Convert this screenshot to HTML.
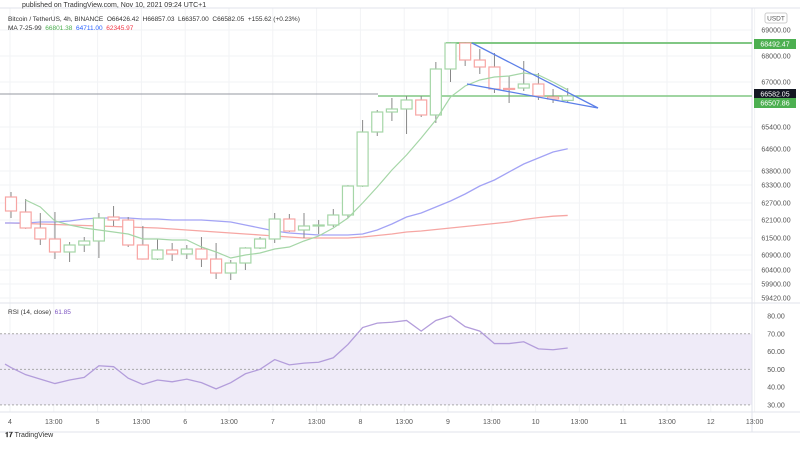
<!DOCTYPE html>
<html><head><meta charset="utf-8"><style>
body{margin:0;background:#fff;width:800px;height:444px;overflow:hidden;font-family:"Liberation Sans",sans-serif}
svg text{font-family:"Liberation Sans",sans-serif}
</style></head><body>
<svg id="c" width="800" height="444" xmlns="http://www.w3.org/2000/svg"></svg>
<script>
const openP=[63000,62468,61901,61511,61050,61298,61440,62291,62184,61298,60801,61121,60979,61156,60801,60305,60659,61191,61511,62220,61830,61990,62007,62362,63390,65305,66014,66121,66440,65908,67539,68461,67858,67610,66850,66865,67007,66546,66426];
const highP=[63177,62929,62433,62468,61404,61582,62433,62681,62291,61972,61511,61369,61298,61582,61369,60766,61220,61582,62433,62397,62433,62184,62574,63420,65731,66085,66511,66582,66582,67787,68492,68492,68248,68106,67291,67823,67397,66830,66857];
const lowP=[62255,61870,61298,60801,60695,61050,60837,61972,61227,60780,60766,60730,60801,60518,60092,60056,60411,61156,61369,61759,61546,61688,61936,62255,63360,65163,65695,65234,65837,65624,67078,67646,67362,66688,66333,66759,66440,66333,66357];
const closeP=[62504,61901,61511,61050,61298,61440,62255,62184,61298,60801,61121,60979,61156,60801,60305,60659,61191,61511,62220,61794,61972,62007,62362,63390,65305,66014,66121,66440,65908,67539,68461,67858,67610,66830,66830,67007,66582,66475,66582];
const ma7=[null,62894,62646,62149,62007,61901,61830,61759,61688,61511,61511,61475,61475,61227,61050,60837,60943,61014,61156,61227,61440,61617,61901,62255,62787,63355,63957,64489,65092,65731,66546,66936,67149,67255,67291,67397,67326,67078,66801];
const ma25=[62078,62078,62113,62113,62149,62220,62255,62255,62255,62220,62220,62184,62184,62184,62149,62113,62007,61901,61794,61723,61688,61653,61653,61653,61688,61830,62042,62291,62433,62646,62858,63107,63390,63603,63887,64170,64383,64596,64711];
const ma99=[62078,62060,62042,62025,62007,61990,61972,61954,61936,61918,61901,61865,61830,61794,61759,61723,61688,61653,61617,61582,61546,61546,61546,61546,61582,61635,61688,61759,61794,61847,61901,61954,62007,62060,62113,62202,62270,62320,62346];
const rsi=[51,47,44.5,42,44,45.5,52,51.5,45,41.5,44,43,44.5,42.5,39,42.5,47.5,50,55.5,52.5,53.5,54,56.5,64,73.5,76,76.5,77.5,71.5,77.5,80,74,71.5,64.5,64.5,65.5,61.5,61,62];
const priceTicks=[69000,68000,67000,65400,64600,63800,63300,62700,62100,61500,60900,60400,59900,59420];
const priceTickY=[30,56,82,127,149,171,185,203,220,238,255,270,284,298];
const rsiTicks=[80,70,60,50,40,30];
const xLabels=["4","13:00","5","13:00","6","13:00","7","13:00","8","13:00","9","13:00","10","13:00","11","13:00","12","13:00"];

const NS="http://www.w3.org/2000/svg",svg=document.getElementById('c');
function el(t,a,p){const e=document.createElementNS(NS,t);for(const k in a)e.setAttribute(k,a[k]);(p||svg).appendChild(e);return e;}
const X=i=>11+14.65*i;
const Y=p=>56+(68000-p)/35.46;
const RY=v=>316+(80-v)*1.778;

// grid
for(let k=0;k<priceTickY.length;k++){const g=el('line',{x1:0,x2:752,y1:priceTickY[k],y2:priceTickY[k],stroke:'#f2f3f5'});}
for(let k=0;k<xLabels.length;k++){const x=10+43.8*k;const g=el('line',{x1:x,x2:x,y1:8,y2:412,stroke:'#f2f3f5'});}
// rsi band
const band=el('rect',{x:0,y:RY(70),width:752,height:RY(30)-RY(70),fill:'#efebf8'});

for(const v of [70,50,30]){const l=el('line',{x1:0,x2:752,y1:RY(v),y2:RY(v),stroke:'#aaa','stroke-dasharray':'2,2'});}
// panes borders
for(const y of [8,303,412,432]){const l=el('line',{x1:0,x2:800,y1:y,y2:y,stroke:'#e0e3eb'});}
const ab=el('line',{x1:752,x2:752,y1:8,y2:432,stroke:'#e0e3eb'});

// price lines
const cp=el('line',{x1:0,x2:378,y1:94,y2:94,stroke:'#9598a1'});
const h1=el('line',{x1:446,x2:752,y1:43,y2:43,stroke:'#81c784','stroke-width':2});
const h2=el('line',{x1:378,x2:752,y1:96,y2:96,stroke:'#81c784','stroke-width':1.5});

function poly(arr,color,name,w){let pts=[];arr.forEach((v,i)=>{if(v!==null)pts.push(X(i)+','+Y(v));});
 if(arr[0]!==null)pts.unshift('5,'+Y(arr[0]));
 const p=el('polyline',{points:pts.join(' '),fill:'none',stroke:color,'stroke-width':w||1.3});}
poly(ma99,'#f6a6a3','ma99-line');
poly(ma25,'#a3a3f5','ma25-line');

// candles
for(let i=0;i<openP.length;i++){
 const up=closeP[i]>=openP[i];const col=up?'#a5d6a7':'#f7a5a3';const x=X(i);
 const w=el('line',{x1:x,x2:x,y1:Y(highP[i]),y2:Y(lowP[i]),stroke:'#888'});
 const t=Math.min(Y(openP[i]),Y(closeP[i]));const h=Math.max(1,Math.abs(Y(openP[i])-Y(closeP[i])));
 const r=el('rect',{x:x-5.5,y:t,width:11,height:h,fill:'#fff',stroke:col,'stroke-width':1.2});
 
}
poly(ma7,'#a5d6a7','ma7-line',1.2);

// wedge
const t1=el('line',{x1:472,y1:43,x2:598,y2:108,stroke:'#5b7fe8','stroke-width':1.3});
const t2=el('line',{x1:467,y1:84,x2:598,y2:108,stroke:'#5b7fe8','stroke-width':1.3});

// rsi
const rp=[('5,'+RY(53))].concat(rsi.map((v,i)=>X(i)+','+RY(v)));
const rl=el('polyline',{points:rp.join(' '),fill:'none',stroke:'#b39ddb','stroke-width':1.3});

// axis labels
function txt(x,y,s,a){const t=el('text',Object.assign({x:x,y:y,'font-size':7,fill:'#555'},a||{}));t.textContent=s;return t;}
priceTicks.forEach((v,k)=>{const t=txt(776,priceTickY[k]+2.5,v.toFixed(2),{'text-anchor':'middle'});});
rsiTicks.forEach(v=>{const t=txt(776,RY(v)+2.5,v.toFixed(2),{'text-anchor':'middle'});});
xLabels.forEach((s,k)=>{const t=txt(10+43.8*k,424,s,{'text-anchor':'middle'});});
function badge(y,s,bg,name){const r=el('rect',{x:754,y:y-5,width:42,height:10,fill:bg});
 const t=txt(775,y+2.5,s,{'text-anchor':'middle',fill:'#fff'});}
badge(44,'68492.47','#4caf50','resistance-price-label');
badge(94,'66582.05','#131722','current-price-label');
badge(103,'66507.86','#4caf50','support-price-label');
const ur=el('rect',{x:765,y:13,width:22,height:10,rx:2,fill:'#fff',stroke:'#ccc'});
const ut=txt(776,20.5,'USDT',{'text-anchor':'middle','font-size':6.5});
</script>
<div style="position:absolute;left:22px;top:2px;font-size:7px;color:#333">published on TradingView.com, Nov 10, 2021 09:24 UTC+1</div>
<div style="position:absolute;left:8px;top:16px;font-size:6.5px;color:#333">Bitcoin / TetherUS, 4h, BINANCE&nbsp; O66426.42&nbsp; H66857.03&nbsp; L66357.00&nbsp; C66582.05&nbsp; +155.62 (+0.23%)</div>
<div style="position:absolute;left:8px;top:25px;font-size:6.5px;color:#333">MA 7-25-99&nbsp; <span style="color:#4caf50">66801.38</span>&nbsp; <span style="color:#2962ff">64711.00</span>&nbsp; <span style="color:#f23645">62345.97</span></div>
<div style="position:absolute;left:8px;top:309px;font-size:6.5px;color:#333">RSI (14, close)&nbsp; <span style="color:#7e57c2">61.85</span></div>
<div style="position:absolute;left:5px;top:432px;font-size:7px;color:#333"><b>𝟏𝟕</b> TradingView</div>
</body></html>
